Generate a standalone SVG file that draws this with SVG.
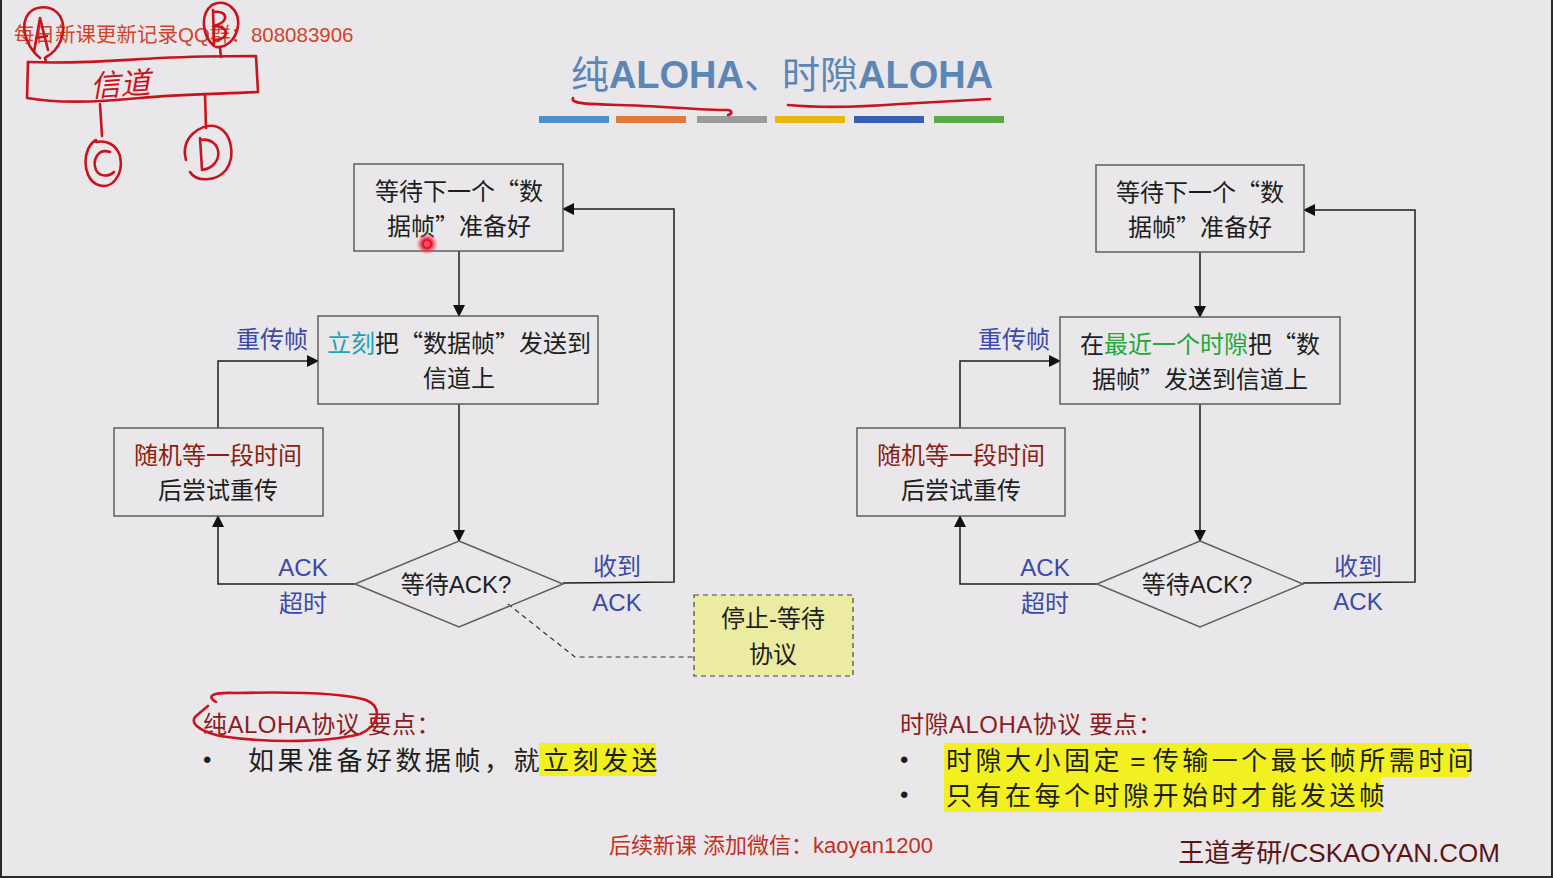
<svg xmlns="http://www.w3.org/2000/svg" width="1553" height="878" viewBox="0 0 1553 878">
  <defs>
    <style>
      .cjk { font-family: "Liberation Sans", "Noto Sans CJK SC", sans-serif; }
      .q { font-family: "Noto Sans CJK SC", sans-serif; }
      .box { fill: none; stroke: #5e5e5e; stroke-width: 1.5; }
      .node-text { font-size: 24px; fill: #1e1e1e; text-anchor: middle; }
      .lbl { font-size: 24px; fill: #3b4aa6; text-anchor: middle; }
      .wait { fill: #8a1e10; }
      .flow { fill: none; stroke: #1e1e1e; stroke-width: 1.5; }
      .ink { fill: none; stroke: #c8141e; stroke-width: 2.6; stroke-linecap: round; stroke-linejoin: round; }
      .ink-text { fill: #c8141e; font-family: "DejaVu Sans", "Noto Sans CJK SC", sans-serif; font-style: italic; }
      .head { font-size: 24px; fill: #8b1c22; }
      .body { font-size: 26px; fill: #1e1e1e; letter-spacing: 3.5px; }
      .hl { fill: #f2f020; }
    </style>
    <marker id="arrow" viewBox="0 0 12 12" refX="11" refY="6" markerWidth="12" markerHeight="12" markerUnits="userSpaceOnUse" orient="auto">
      <path d="M0,0 L12,6 L0,12 Z" fill="#111"/>
    </marker>
    <radialGradient id="dot" cx="0.5" cy="0.5" r="0.5">
      <stop offset="0" stop-color="#ff3040"/>
      <stop offset="0.4" stop-color="#e0102a"/>
      <stop offset="1" stop-color="#ff6070" stop-opacity="0"/>
    </radialGradient>
  </defs>

  <!-- page background and frame -->
  <rect x="0" y="0" width="1553" height="878" fill="#e9e7ea"/>
  <rect x="0" y="0" width="2" height="878" fill="#2a2a2a"/>
  <rect x="1551" y="0" width="2" height="878" fill="#2a2a2a"/>
  <rect x="0" y="876" width="1553" height="2" fill="#2a2a2a"/>

  <!-- title -->
  <text x="782" y="88" class="cjk" font-size="38" fill="#5b86b6" text-anchor="middle">纯<tspan font-weight="bold">ALOHA</tspan>、时隙<tspan font-weight="bold">ALOHA</tspan></text>
  <g id="color-bars">
    <rect x="539" y="116" width="70" height="7" fill="#4d8fc9"/>
    <rect x="616" y="116" width="70" height="7" fill="#e07a3a"/>
    <rect x="697" y="116" width="70" height="7" fill="#9b9a9c"/>
    <rect x="775" y="116" width="70" height="7" fill="#e8b810"/>
    <rect x="854" y="116" width="70" height="7" fill="#3860b0"/>
    <rect x="934" y="116" width="70" height="7" fill="#5ba847"/>
  </g>

  <!-- connectors -->
  <g id="connectors">
    <!-- pure ALOHA -->
    <line class="flow" x1="459" y1="251" x2="459" y2="316" marker-end="url(#arrow)"/>
    <line class="flow" x1="459" y1="404" x2="459" y2="541" marker-end="url(#arrow)"/>
    <polyline class="flow" points="355,584 218,584 218,516" marker-end="url(#arrow)"/>
    <polyline class="flow" points="218,428 218,361 318,361" marker-end="url(#arrow)"/>
    <polyline class="flow" points="563,583 674,582 674,209 563,209" marker-end="url(#arrow)"/>
    <polyline fill="none" stroke="#333" stroke-width="1.2" stroke-dasharray="5,4" points="508,604 575,657 694,657"/>
    <!-- slotted ALOHA -->
    <line class="flow" x1="1200" y1="252" x2="1200" y2="317" marker-end="url(#arrow)"/>
    <line class="flow" x1="1200" y1="404" x2="1200" y2="541" marker-end="url(#arrow)"/>
    <polyline class="flow" points="1097,584 960,584 960,516" marker-end="url(#arrow)"/>
    <polyline class="flow" points="960,428 960,361 1060,361" marker-end="url(#arrow)"/>
    <polyline class="flow" points="1303,583 1415,582 1415,210 1304,210" marker-end="url(#arrow)"/>
  </g>

  <!-- pure ALOHA nodes -->
  <g id="p-wait-frame">
    <rect class="box" x="354" y="164" width="209" height="87"/>
    <text class="cjk node-text" x="459" y="200">等待下一个<tspan class="q">“</tspan>数</text>
    <text class="cjk node-text" x="459" y="235">据帧<tspan class="q">”</tspan>准备好</text>
  </g>
  <g id="p-send">
    <rect class="box" x="318" y="316" width="280" height="88"/>
    <text class="cjk node-text" x="459" y="352"><tspan fill="#1ea3b3">立刻</tspan>把<tspan class="q">“</tspan>数据帧<tspan class="q">”</tspan>发送到</text>
    <text class="cjk node-text" x="459" y="387">信道上</text>
  </g>
  <g id="p-backoff">
    <rect class="box" x="114" y="428" width="209" height="88"/>
    <text class="cjk node-text wait" x="218" y="464">随机等一段时间</text>
    <text class="cjk node-text" x="218" y="499">后尝试重传</text>
  </g>
  <g id="p-ack">
    <polygon class="box" points="459,541 563,584 459,627 355,584"/>
    <text class="cjk node-text" x="456" y="593">等待ACK?</text>
  </g>
  <g id="p-labels">
    <text class="cjk lbl" x="272" y="348">重传帧</text>
    <text class="cjk lbl" x="303" y="576">ACK</text>
    <text class="cjk lbl" x="303" y="612">超时</text>
    <text class="cjk lbl" x="617" y="575">收到</text>
    <text class="cjk lbl" x="617" y="611">ACK</text>
  </g>
  <g id="stop-and-wait">
    <rect x="694" y="595" width="159" height="81" fill="#ebeba2" stroke="#444" stroke-width="1.2" stroke-dasharray="5,4"/>
    <text class="cjk node-text" x="773" y="627" fill="#333">停止-等待</text>
    <text class="cjk node-text" x="773" y="663" fill="#333">协议</text>
  </g>

  <!-- slotted ALOHA nodes -->
  <g id="s-wait-frame">
    <rect class="box" x="1096" y="165" width="208" height="87"/>
    <text class="cjk node-text" x="1200" y="201">等待下一个<tspan class="q">“</tspan>数</text>
    <text class="cjk node-text" x="1200" y="236">据帧<tspan class="q">”</tspan>准备好</text>
  </g>
  <g id="s-send">
    <rect class="box" x="1060" y="317" width="280" height="87"/>
    <text class="cjk node-text" x="1200" y="353">在<tspan fill="#22a838">最近一个时隙</tspan>把<tspan class="q">“</tspan>数</text>
    <text class="cjk node-text" x="1200" y="388">据帧<tspan class="q">”</tspan>发送到信道上</text>
  </g>
  <g id="s-backoff">
    <rect class="box" x="857" y="428" width="208" height="88"/>
    <text class="cjk node-text wait" x="961" y="464">随机等一段时间</text>
    <text class="cjk node-text" x="961" y="499">后尝试重传</text>
  </g>
  <g id="s-ack">
    <polygon class="box" points="1200,541 1303,584 1200,627 1097,584"/>
    <text class="cjk node-text" x="1197" y="593">等待ACK?</text>
  </g>
  <g id="s-labels">
    <text class="cjk lbl" x="1014" y="348">重传帧</text>
    <text class="cjk lbl" x="1045" y="576">ACK</text>
    <text class="cjk lbl" x="1045" y="612">超时</text>
    <text class="cjk lbl" x="1358" y="575">收到</text>
    <text class="cjk lbl" x="1358" y="610">ACK</text>
  </g>

  <!-- key points -->
  <g id="pure-notes">
    <text class="cjk head" x="203" y="733" letter-spacing="0.5">纯ALOHA协议 要点：</text>
    <text class="cjk" x="203" y="768" font-size="24" fill="#1e1e1e">•</text>
    <rect class="hl" x="539" y="743" width="117" height="33"/>
    <text class="cjk body" x="248" y="770">如果准备好数据帧，就立刻发送</text>
  </g>
  <g id="slotted-notes">
    <text class="cjk head" x="900" y="733" letter-spacing="0.5">时隙ALOHA协议 要点：</text>
    <text class="cjk" x="900" y="768" font-size="24" fill="#1e1e1e">•</text>
    <text class="cjk" x="900" y="803" font-size="24" fill="#1e1e1e">•</text>
    <rect class="hl" x="944" y="743" width="525" height="34"/>
    <rect class="hl" x="944" y="777" width="437" height="35"/>
    <text class="cjk body" x="946" y="770">时隙大小固定<tspan letter-spacing="0"> = </tspan>传输一个最长帧所需时间</text>
    <text class="cjk body" x="946" y="805">只有在每个时隙开始时才能发送帧</text>
  </g>

  <!-- footer and corner captions -->
  <text class="cjk" x="771" y="853" font-size="22" fill="#c2301e" text-anchor="middle">后续新课 添加微信：kaoyan1200</text>
  <text class="cjk" x="1500" y="862" font-size="26" fill="#5c1414" text-anchor="end">王道考研/CSKAOYAN.COM</text>
  <text class="cjk" x="14" y="42" font-size="20.5" fill="#d2442a">每日新课更新记录QQ群：808083906</text>

  <!-- pen annotations: shared channel sketch -->
  <g id="sketch">
    <path class="ink" d="M40,58 C30,50 20,32 26,18 C32,4 52,4 60,16 C68,30 60,50 46,57"/>
    <path class="ink" d="M34,52 L40,18 L48,50 M36,38 L47,36"/>
    <path class="ink" d="M45,58 L46,62"/>
    <path class="ink" d="M214,46 C202,36 200,14 212,5 C226,-2 240,10 238,26 C236,40 226,48 216,47"/>
    <path class="ink" d="M213,10 L214,44 M213,12 C228,10 230,22 214,26 C230,26 230,40 214,40"/>
    <path class="ink" d="M220,48 L221,57"/>
    <path class="ink" d="M28,62 C80,64 120,60 160,58 C200,56 230,56 256,56 L258,92"/>
    <path class="ink" d="M28,62 L27,98 C60,104 100,102 140,98 C180,94 220,94 258,92"/>
    <text class="ink-text" x="90" y="95" font-size="30" transform="rotate(-4 120 82)">信道</text>
    <path class="ink" d="M100,104 L102,136"/>
    <path class="ink" d="M96,140 C82,148 82,176 96,184 C112,192 124,174 120,156 C116,144 106,140 96,142"/>
    <path class="ink" d="M110,152 C98,148 92,160 96,170 C100,178 110,176 114,172"/>
    <path class="ink" d="M205,94 L206,128"/>
    <path class="ink" d="M186,160 C180,138 200,124 214,126 C232,130 236,156 226,170 C216,182 196,182 190,172"/>
    <path class="ink" d="M200,138 L202,170 M200,140 C222,136 226,166 202,170"/>
  </g>

  <!-- pen annotations: title underlines and circled heading -->
  <g id="marks">
    <path class="ink" d="M573,98 C570,104 590,104 620,105 C660,106 700,110 728,110 C733,111 732,114 728,115"/>
    <path class="ink" d="M788,105 C820,108 860,107 900,104 C940,102 970,100 990,99"/>
    <path class="ink" d="M216,702 C206,696 212,692 236,693 C280,692 340,692 366,700 C384,708 378,726 360,734 C320,744 260,742 220,736 C196,730 190,722 196,716 L208,706"/>
  </g>

  <!-- pointer dot -->
  <circle cx="427" cy="244" r="11" fill="url(#dot)"/>
  <circle cx="427" cy="244" r="3" fill="#ff5060"/>
</svg>
